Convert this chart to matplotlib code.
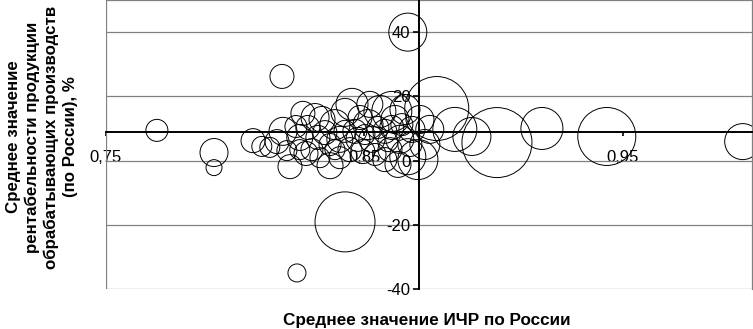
import matplotlib
matplotlib.use("Agg")
import matplotlib.pyplot as plt
import numpy as np

plt.rcParams['font.family'] = ['Liberation Sans', 'DejaVu Sans']

# HDI (x), profitability % (y), bubble weight (area units)
hdi = [0.8668, 0.8181, 0.7697, 0.7918, 0.7918, 0.8239, 0.8425, 0.8780, 0.8850, 0.8916,
       0.9013, 0.9187, 0.9438, 0.9964,
       0.8069, 0.8103, 0.8134, 0.8162, 0.8200, 0.8212, 0.8250, 0.8274, 0.8235, 0.8262,
       0.8309, 0.8297, 0.8328, 0.8367, 0.8347, 0.8386, 0.8405, 0.8425, 0.8452, 0.8463,
       0.8444, 0.8494, 0.8514, 0.8529, 0.8560, 0.8579, 0.8599, 0.8618, 0.8637, 0.8657,
       0.8668, 0.8684, 0.8707, 0.8734, 0.8715, 0.8367, 0.8320, 0.8483, 0.8541, 0.8630,
       0.8753, 0.8185, 0.8606,
       0.8386, 0.8425, 0.8475, 0.8502, 0.8552, 0.8591, 0.8606, 0.8645, 0.8676, 0.8336,
       0.8281, 0.8521, 0.8405, 0.8579, 0.8250]
profit = [40.0, 26.2, 9.4, 2.5, -2.2, -35.0, -19.1, 16.2, 9.7, 7.5,
          5.6, 10.0, 7.5, 5.9,
          6.2, 4.4, 4.1, 5.9, 3.1, -1.9, 7.2, 2.2, 10.6, 14.7,
          13.4, 3.4, 0.9, -1.6, 8.7, 11.2, 6.6, 15.0, 17.5, 9.1,
          3.4, 2.8, 11.2, 6.6, 15.3, 9.1, 3.4, 12.8, 6.6, 15.9,
          1.2, 9.7, 0.3, 5.0, 12.8, 5.0, 7.2, 13.4, 1.9, -1.2,
          9.7, 9.1, 15.3,
          3.4, 9.1, 6.6, 8.1, 10.3, 5.9, 10.3, 11.2, 5.0, 12.8,
          10.3, 17.5, 0.9, 0.3, 3.4]
weight = [361, 144, 121, 196, 64, 81, 900, 1024, 484, 361,
          1225, 441, 841, 324,
          144, 100, 100, 144, 100, 144, 169, 144, 121, 144,
          196, 121, 100, 169, 144, 225, 169, 196, 256, 144,
          144, 144, 225, 169, 256, 144, 144, 196, 196, 225,
          324, 169, 400, 225, 196, 121, 144, 144, 121, 169,
          196, 196, 400,
          100, 121, 144, 100, 121, 100, 144, 121, 144, 169,
          144, 169, 121, 144, 100]

x_ticks = [0.75, 0.85, 0.95]
x_tick_labels = ["0,75", "0,85", "0,95"]
y_ticks = [-40, -20, 0, 20, 40]
y_tick_labels = ["-40", "-20", "0", "20", "40"]
x_cross = 0.8713   # Russia average HDI
y_cross = 8.8      # Russia average profitability

fig = plt.figure(figsize=(7.53, 3.29), dpi=100)
ax = fig.add_axes([106/753, 40/329, 646/753, 289/329])
ax.set_xlim(0.75, 1.0)
ax.set_ylim(-40, 50)

ax.scatter(hdi, profit, s=np.array(weight) * 2.0736, facecolors='none',
           edgecolors='black', linewidths=0.7, zorder=3)

grey = '#808080'
ax.set_yticks(y_ticks)
ax.set_yticklabels(y_tick_labels)
ax.set_xticks(x_ticks)
ax.set_xticklabels(x_tick_labels)
ax.yaxis.grid(True, color=grey, linewidth=0.9, zorder=1)
ax.set_axisbelow(True)
ax.axvline(0.75, color=grey, linewidth=0.9, zorder=1)

for s in ['top', 'right']:
    ax.spines[s].set_color(grey)
    ax.spines[s].set_linewidth(0.9)
ax.spines['left'].set_position(('data', x_cross))
ax.spines['bottom'].set_position(('data', y_cross))
for s in ['left', 'bottom']:
    ax.spines[s].set_color('black')
    ax.spines[s].set_linewidth(1.4)
    ax.spines[s].set_zorder(4)

ax.tick_params(axis='y', direction='out', length=4.5, width=1.2, pad=2, labelsize=12)
ax.tick_params(axis='x', direction='out', length=3, width=1.2, pad=10, labelsize=12)

fig.text(427/753, 1 - 320/329, "Среднее значение ИЧР по России", ha='center', va='center',
         fontsize=12.3, fontweight='bold')
fig.text(42/753, 1 - 137/329,
         "Среднее значение\nрентабельности продукции\nобрабатывающих производств\n(по России), %",
         ha='center', va='center', rotation=90, fontsize=12.2, fontweight='bold',
         multialignment='center', linespacing=1.3)

fig.savefig("out.png", dpi=100)
